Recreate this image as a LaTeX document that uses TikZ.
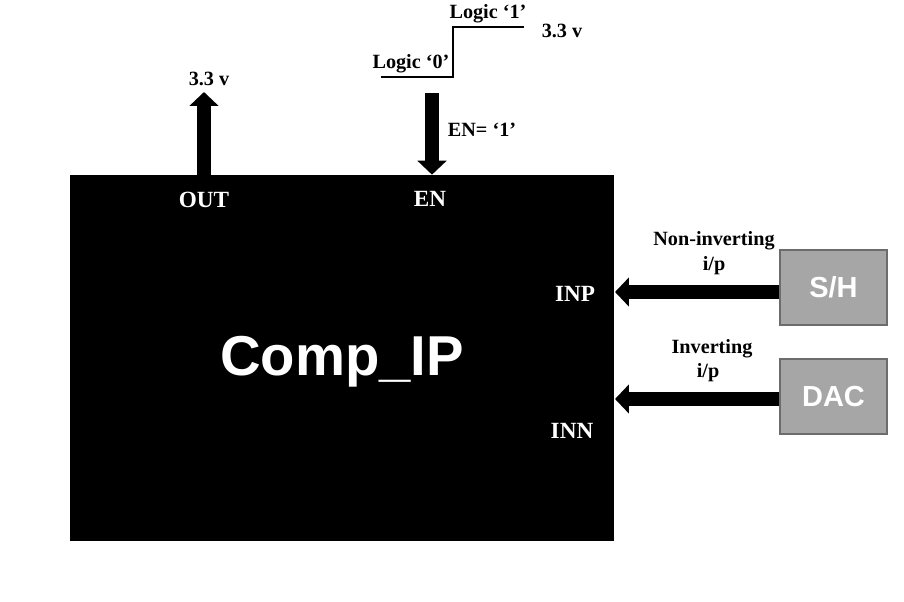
\documentclass[tikz,border=0pt]{standalone}
\usepackage{fontspec}
\setmainfont{Liberation Serif}
\newfontfamily\arialfont{Liberation Sans}
\usetikzlibrary{arrows.meta}

\begin{document}
\begin{tikzpicture}[x=0.02cm, y=-0.02cm,
  lbl/.style={font=\bfseries\fontsize{11.5}{13}\selectfont, inner sep=0pt},
  pin/.style={text=white, font=\bfseries\fontsize{13.2}{15}\selectfont, inner sep=0pt},
  srcbox/.style={draw=gray!85!black, fill=gray!70, text=white, line width=0.6pt,
    font=\arialfont\bfseries\fontsize{16.5}{19}\selectfont,
    minimum width=2.14cm, minimum height=1.5cm, inner sep=0pt},
  bigarrow/.style={line width=0.28cm, -{Triangle[width=0.57cm,length=0.28cm]}}]

  \useasboundingbox (0,0) rectangle (904,602);

  % the comparator block
  \node[fill=black, minimum width=10.88cm, minimum height=7.32cm, inner sep=0pt] (comp) at (342,358) {};
  \node[text=white, inner sep=0pt, font=\arialfont\bfseries\fontsize{32}{36}\selectfont]
    (compname) at (342,362) {Comp\_IP};

  % pin names
  \node[pin] (outpin) at (204,200) {OUT};
  \node[pin] (enpin)  at (430,199) {EN};
  \node[pin] (inppin) at (575,294) {INP};
  \node[pin] (innpin) at (572,431) {INN};

  % sources
  \node[srcbox] (sh)  at (833.5,287.5) {S/H};
  \node[srcbox] (dac) at (833.5,396.5) {DAC};

  % arrow end points
  \coordinate (outtip) at (204,92);
  \coordinate (enfrom) at (432,93);
  \coordinate (inptip) at (615,292);
  \coordinate (inntip) at (615,399);

  \draw[bigarrow] (outtip |- comp.north) -- (outtip);
  \draw[bigarrow] (enfrom) -- (enfrom |- comp.north);
  \draw[bigarrow] (sh.west |- inptip) -- (inptip);
  \draw[bigarrow] (dac.west |- inntip) -- (inntip);

  % logic step of the enable
  \draw[line width=1.3pt] (381,77) -- (453,77) -- (453,27) -- (524,27);

  % labels
  \node[lbl] (vout)  at (209,79)  {3.3 v};
  \node[lbl] (lone)  at (488,14)  {Logic `1'};
  \node[lbl] (vhigh) at (562,31)  {3.3 v};
  \node[lbl] (lzero) at (411,64)  {Logic `0'};
  \node[lbl] (enval) at (482,130) {EN= `1'};
  \node[lbl] (ninv)  at (714,241) {Non-inverting};
  \node[lbl] (ninvp) at (714,266) {i/p};
  \node[lbl] (inv)   at (712,349) {Inverting};
  \node[lbl] (invp)  at (708,373) {i/p};
\end{tikzpicture}
\end{document}
